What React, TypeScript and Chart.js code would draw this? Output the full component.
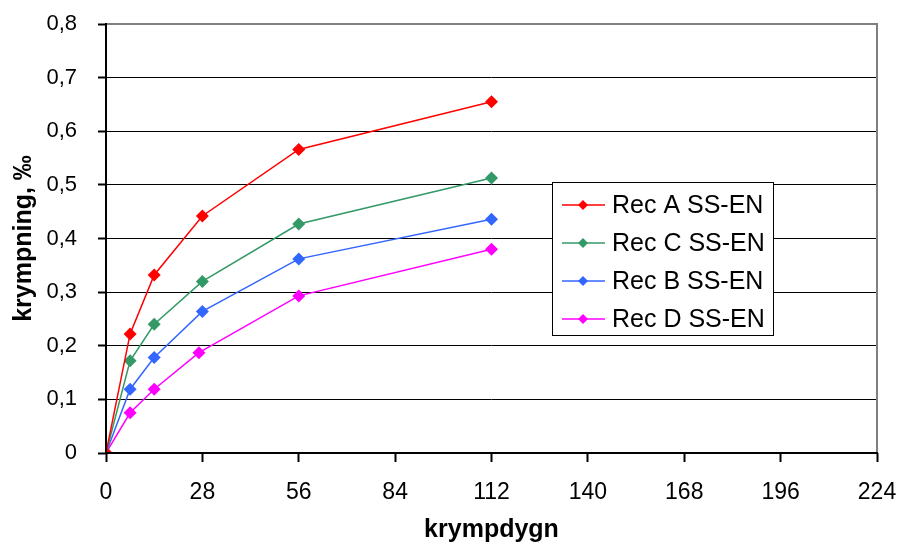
import React, { useEffect, useRef } from "react";
import { Chart, registerables } from "chart.js";

Chart.register(...registerables);

const seriesNames = ["Rec A SS-EN", "Rec C SS-EN", "Rec B SS-EN", "Rec D SS-EN"];
const seriesColors = ["#FF0000", "#339966", "#3366FF", "#FF00FF"];

const daysA = [0, 7, 14, 28, 56, 112];
const daysC = [0, 7, 14, 28, 56, 112];
const daysB = [0, 7, 14, 28, 56, 112];
const daysD = [0, 7, 14, 27, 56, 112];

const recA = [0, 0.222, 0.332, 0.442, 0.566, 0.655];
const recC = [0, 0.172, 0.24, 0.32, 0.427, 0.513];
const recB = [0, 0.119, 0.178, 0.264, 0.362, 0.436];
const recD = [0, 0.075, 0.119, 0.187, 0.293, 0.38];

const xTicks = [0, 28, 56, 84, 112, 140, 168, 196, 224];
const yTicks = [0, 0.1, 0.2, 0.3, 0.4, 0.5, 0.6, 0.7, 0.8];

const FONT = "'Liberation Sans', Arial, sans-serif";

const toPoints = (xs: number[], ys: number[]) => xs.map((x, i) => ({ x, y: ys[i] }));

const framePlugin = {
  id: "frame",
  afterDraw(chart: any) {
    const { ctx, chartArea } = chart;
    const { left, right, top, bottom } = chartArea;
    ctx.save();
    ctx.strokeStyle = "#808080";
    ctx.lineWidth = 2;
    ctx.beginPath();
    ctx.moveTo(left, top);
    ctx.lineTo(right, top);
    ctx.lineTo(right, bottom);
    ctx.stroke();
    ctx.strokeStyle = "#000";
    ctx.lineWidth = 2;
    ctx.beginPath();
    ctx.moveTo(left, top - 1);
    ctx.lineTo(left, bottom);
    ctx.lineTo(right + 1, bottom);
    ctx.stroke();
    ctx.restore();
  },
};

const legendPlugin = {
  id: "boxLegend",
  afterDraw(chart: any) {
    const { ctx, chartArea } = chart;
    const bx = chartArea.left + 446;
    const by = chartArea.top + 158;
    const bw = 221;
    const bh = 153;
    ctx.save();
    ctx.fillStyle = "#fff";
    ctx.fillRect(bx, by, bw, bh);
    ctx.strokeStyle = "#000";
    ctx.lineWidth = 1;
    ctx.strokeRect(bx + 0.5, by + 0.5, bw, bh);
    chart.data.datasets.forEach((ds: any, i: number) => {
      const cy = by + 23 + i * 38;
      ctx.strokeStyle = ds.borderColor;
      ctx.lineWidth = 1.5;
      ctx.beginPath();
      ctx.moveTo(bx + 10, cy);
      ctx.lineTo(bx + 53, cy);
      ctx.stroke();
      const cx = bx + 31;
      const r = 5;
      ctx.fillStyle = ds.backgroundColor;
      ctx.beginPath();
      ctx.moveTo(cx, cy - r);
      ctx.lineTo(cx + r, cy);
      ctx.lineTo(cx, cy + r);
      ctx.lineTo(cx - r, cy);
      ctx.closePath();
      ctx.fill();
      ctx.fillStyle = "#000";
      ctx.font = `25px ${FONT}`;
      ctx.textBaseline = "middle";
      ctx.textAlign = "left";
      ctx.fillText(ds.label, bx + 60, cy + 1);
    });
    ctx.restore();
  },
};

export default function App() {
  const ref = useRef<HTMLCanvasElement | null>(null);

  useEffect(() => {
    if (!ref.current) return;
    const seriesData = [
      toPoints(daysA, recA),
      toPoints(daysC, recC),
      toPoints(daysB, recB),
      toPoints(daysD, recD),
    ];
    const chart = new Chart(ref.current, {
      type: "line",
      data: {
        datasets: seriesNames.map((name, i) => ({
          label: name,
          data: seriesData[i],
          borderColor: seriesColors[i],
          backgroundColor: seriesColors[i],
          borderWidth: 1.5,
          pointStyle: "rectRot",
          pointRadius: 6.5,
          pointBorderWidth: 0,
          pointBackgroundColor: seriesColors[i],
          tension: 0,
          fill: false,
        })),
      },
      options: {
        animation: false,
        responsive: false,
        maintainAspectRatio: false,
        layout: { padding: { top: 24, right: 21, left: 0, bottom: 0 } },
        plugins: {
          legend: { display: false },
          tooltip: { enabled: false },
        },
        scales: {
          x: {
            type: "linear",
            min: 0,
            max: 224,
            afterBuildTicks: (s: any) => {
              s.ticks = xTicks.map((v) => ({ value: v }));
            },
            afterFit: (s: any) => {
              s.height = 92;
              s.paddingLeft = 0;
              s.paddingRight = 0;
            },
            border: { display: false },
            grid: {
              drawOnChartArea: false,
              drawTicks: true,
              tickLength: 9,
              tickColor: "#000",
              tickWidth: 2,
            },
            ticks: {
              color: "#000",
              font: { family: FONT, size: 23 },
              padding: 17,
              maxRotation: 0,
              autoSkip: false,
            },
            title: {
              display: true,
              text: "krympdygn",
              color: "#000",
              font: { family: FONT, size: 25, weight: "bold" },
              padding: { top: 0, bottom: 0 },
            },
          },
          y: {
            type: "linear",
            min: 0,
            max: 0.8,
            afterBuildTicks: (s: any) => {
              s.ticks = yTicks.map((v) => ({ value: v }));
            },
            afterFit: (s: any) => {
              s.width = 106;
              s.paddingTop = 0;
              s.paddingBottom = 0;
            },
            border: { display: false },
            grid: {
              color: "#000",
              lineWidth: 1,
              drawTicks: true,
              tickLength: 8,
              tickColor: "#000",
              tickWidth: 2,
            },
            ticks: {
              color: "#000",
              font: { family: FONT, size: 22 },
              padding: 21,
              autoSkip: false,
              callback: (v: any) => (v === 0 ? "0" : Number(v).toFixed(1).replace(".", ",")),
            },
            title: {
              display: true,
              text: "krympning, ‰",
              color: "#000",
              font: { family: FONT, size: 25, weight: "bold" },
              padding: { top: 9, bottom: 0 },
            },
          },
        },
      },
      plugins: [framePlugin, legendPlugin],
    });
    return () => chart.destroy();
  }, []);

  return (
    <div style={{ position: "absolute", left: 0, top: 0, width: 898, height: 545, background: "#fff" }}>
      <canvas ref={ref} width={898} height={545} style={{ display: "block" }} />
    </div>
  );
}
